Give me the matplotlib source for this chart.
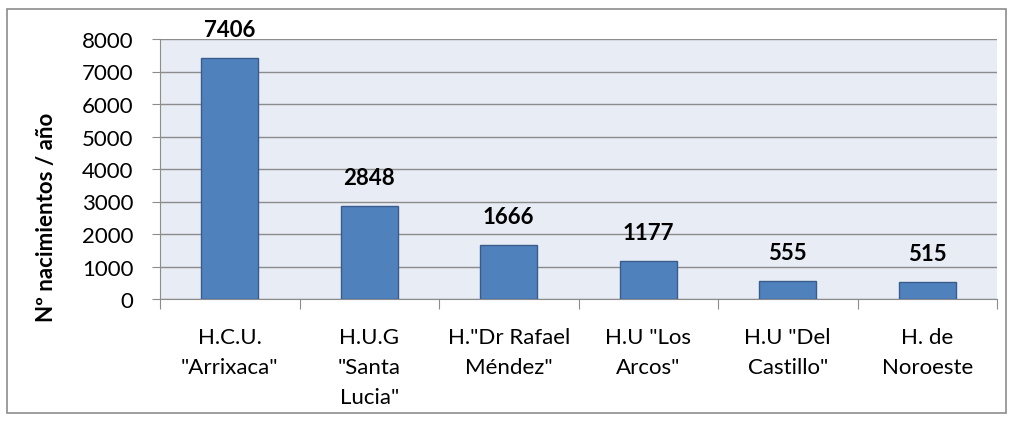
import matplotlib.pyplot as plt
from matplotlib.patches import Rectangle

hospitals = ['H.C.U.\n"Arrixaca"', 'H.U.G\n"Santa\nLucia"', 'H."Dr Rafael\nMéndez"',
             'H.U "Los\nArcos"', 'H.U "Del\nCastillo"', 'H. de\nNoroeste']
births = [7406, 2848, 1666, 1177, 555, 515]
yticks = [0, 1000, 2000, 3000, 4000, 5000, 6000, 7000, 8000]

plt.rcParams['font.family'] = ['Lato', 'DejaVu Sans']

fig = plt.figure(figsize=(10.14, 4.27), dpi=100)
ax = fig.add_axes([160 / 1014, 1 - 300 / 427, 837 / 1014, 260 / 427])

# outer chart border
fig.patches.append(Rectangle((7 / 1014, 1 - 414 / 427), 999 / 1014, 404 / 427,
                             transform=fig.transFigure, fill=False,
                             edgecolor='#8c8c8c', linewidth=1.2))

ax.set_facecolor('#e8ecf4')
x = range(len(hospitals))
ax.bar(x, births, width=0.41, color='#4f81bd', edgecolor='#385d8a', linewidth=1, zorder=3)
for i, v in zip(x, births):
    ax.annotate(str(v), (i, v), xytext=(0, 13), textcoords='offset points',
                ha='center', va='bottom', fontsize=16, fontweight='bold',
                annotation_clip=False)

ax.set_ylim(0, 8000)
ax.set_xlim(-0.5, len(hospitals) - 0.5)
ax.set_yticks(yticks)
ax.set_yticklabels([str(t) for t in yticks], fontsize=16)
ax.yaxis.grid(True, color='#8c8c8c', linewidth=1, zorder=0)

ax.set_xticks([i - 0.5 for i in range(len(hospitals) + 1)])
ax.set_xticklabels([])
ax.set_xticks(list(x), minor=True)
ax.set_xticklabels(hospitals, minor=True, fontsize=16, linespacing=1.62)
ax.tick_params(axis='x', which='minor', length=0, pad=20)
ax.tick_params(axis='x', which='major', length=7, color='#8c8c8c', direction='out')
ax.tick_params(axis='y', length=6, color='#8c8c8c', direction='out', pad=13)

for s in ['top', 'right']:
    ax.spines[s].set_visible(False)
ax.spines['left'].set_color('#8c8c8c')
ax.spines['bottom'].set_color('#8c8c8c')

fig.text(47 / 1014, 1 - 217 / 427, 'Nº nacimientos / año', rotation=90,
         ha='center', va='center', fontsize=16, fontweight='bold')

fig.savefig('out.png', dpi=100)
